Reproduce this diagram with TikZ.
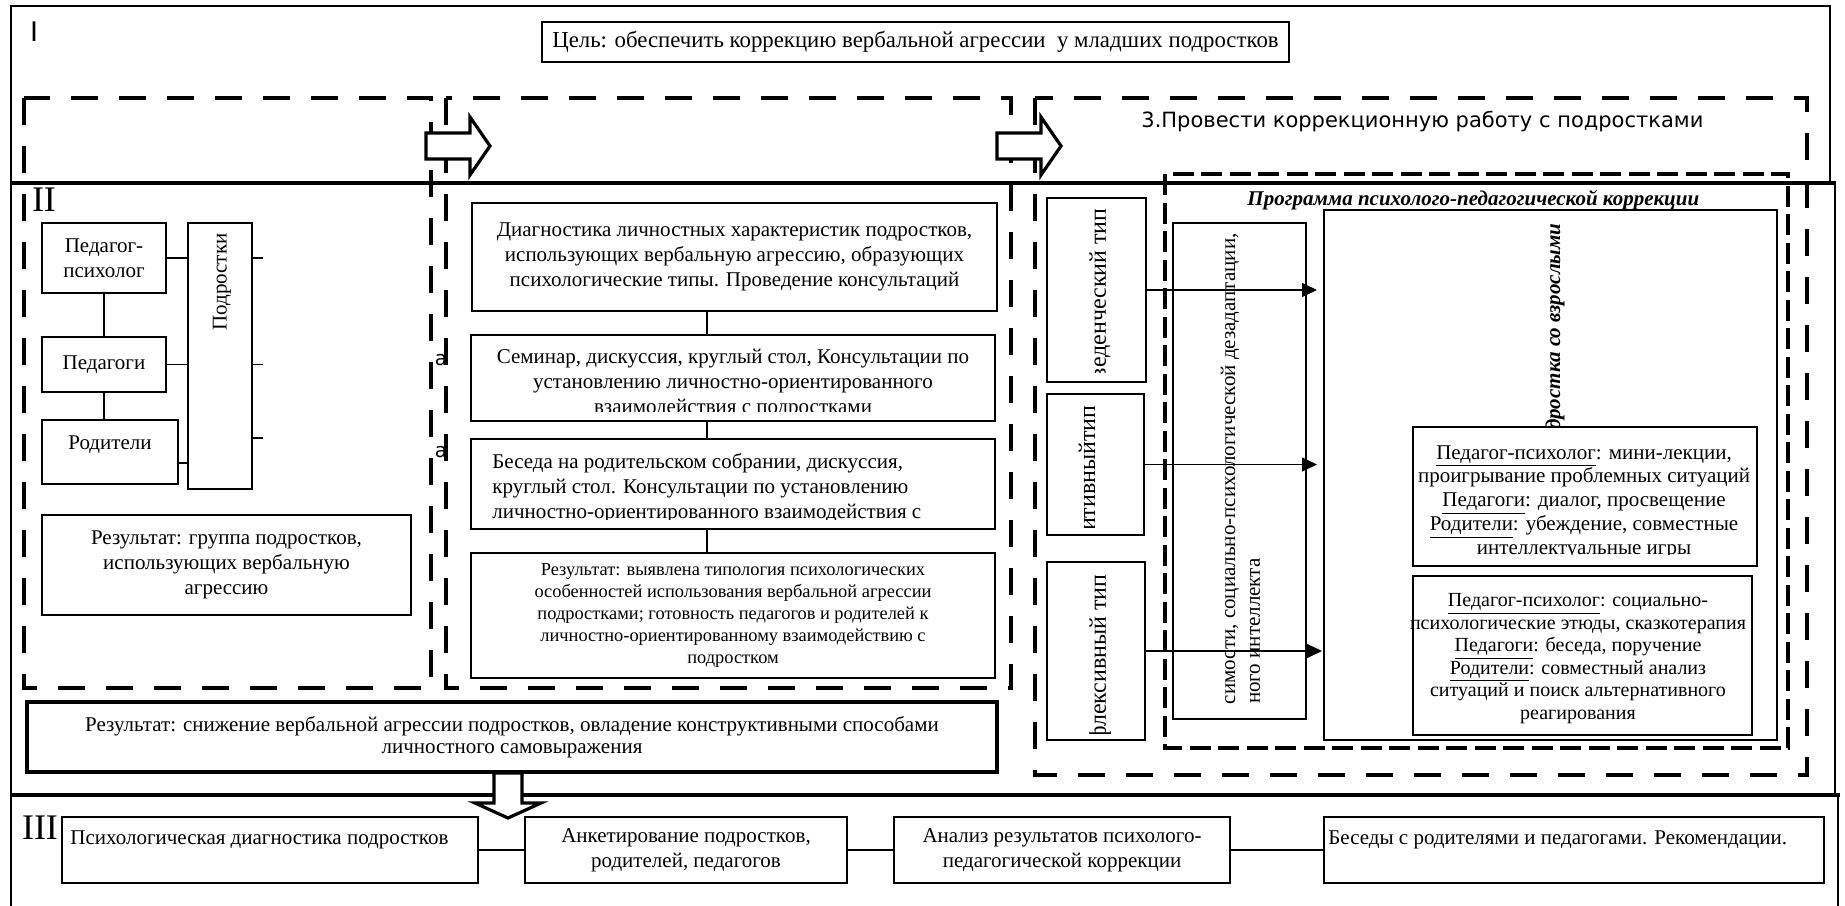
\documentclass[tikz,border=0pt]{standalone}
\usepackage{fontspec}
\setmainfont{Liberation Serif}
\newfontfamily\sansf{DejaVu Sans}
\usetikzlibrary{arrows.meta,calc}
\newcommand{\fz}[2]{\fontsize{#1}{#2}\selectfont}
\begin{document}
\begin{tikzpicture}[x=0.5pt,y=-0.5pt,
  bx/.style={draw, line width=0.8pt, inner sep=0pt, outer sep=0pt, align=center, font=\fz{10.5}{12.5}},
  lnk/.style={line width=0.7pt},
  bigdash/.style={line width=1.8pt, dash pattern=on 13.5pt off 10.5pt},
  progdash/.style={line width=2.2pt, dash pattern=on 10.5pt off 3.75pt},
  blockarrow/.style={draw, line width=1.6pt, fill=white, line join=miter},
  tiparrow/.style={-{Triangle[length=7.5pt,width=7pt]}, line width=0.6pt},
  frameline/.style={line width=0.8pt},
  sepline/.style={line width=1.6pt},
  txt/.style={inner sep=0pt, align=center, font=\fz{10.5}{12.5}},
  rot/.style={rotate=90, anchor=east, inner sep=0pt, font=\fz{10.5}{12.5}},
  rottype/.style={rot, font=\fz{12}{14}},
]
\useasboundingbox (0,0) rectangle (1845,905);
\fill[white] (0,0) rectangle (1845,905);

% section frames
\draw[frameline] (11,183) -- (11,6) -- (1830,6) -- (1830,183);
\draw[frameline] (11,183) -- (11,910);
\draw[frameline] (1835,183) -- (1835,795);
\draw[frameline] (1838,795) -- (1838,910);
\draw[sepline] (11,183) -- (1836,183);
\draw[sepline] (11,795) -- (1840,795);

% section labels
\node[font=\sansf\fz{13.5}{16}] (lI) at (34,32) {I};
\node[font=\fz{18}{20}] (lII) at (44,200) {II};
\node[font=\fz{18}{20}] (lIII) at (40,828) {III};

% goal
\node[bx, minimum width=373.5pt, minimum height=20pt, font=\fz{11.4}{13}] (goal) at (915.5,42) {Цель: обеспечить коррекцию вербальной агрессии~ у младших подростков};

% dashed stage panels
\draw[bigdash] (24,98) rectangle (431,688);
\draw[bigdash] (446,98) rectangle (1011,688);
\draw[bigdash] (1035,98) rectangle (1807,775);

% block arrows between stages
\draw[blockarrow] (426,133) -- (470,133) -- (470,117) -- (490,146) -- (470,175) -- (470,159) -- (426,159) -- cycle;
\draw[blockarrow] (997,133) -- (1041,133) -- (1041,117) -- (1061,146) -- (1041,175) -- (1041,159) -- (997,159) -- cycle;

\node[anchor=west, inner sep=0pt, font=\sansf\fz{10.5}{12}] (t3) at (1141,122) {3.Провести коррекционную работу с подростками};

% ---- stage 1 (left panel)
\node[bx, minimum width=62pt, minimum height=35pt] (pp) at (104,258) {Педагог-\\психолог};
\node[bx, minimum width=62pt, minimum height=27.5pt] (ped) at (104,364.5) {Педагоги};
\node[bx, minimum width=68pt, minimum height=32pt] (rod) at (110,452) {};
\node[txt] (rodt) at (110,445) {Родители};
\node[bx, minimum width=32pt, minimum height=133pt] (podr) at (220,356) {};
\node[txt, rotate=90] (podrt) at (222,282) {Подростки};
\node[bx, minimum width=184.5pt, minimum height=50pt] (res1) at (226.5,565) {Результат: группа подростков,\\использующих вербальную\\агрессию};

\draw[lnk] (pp.east) -- (pp.east -| podr.west);
\draw[lnk] (ped.east) -- (ped.east -| podr.west);
\coordinate (rodc) at ([yshift=-5.5pt]rod.east);
\draw[lnk] (rodc) -- (rodc -| podr.west);
\draw[lnk] (pp.south) -- (ped.north);
\draw[lnk] (ped.south) -- (ped.south |- rod.north);
\draw[lnk] (podr.east |- pp.east) -- ++(11,0);
\draw[lnk] (podr.east |- ped.east) -- ++(11,0);
\coordinate (podc) at ([yshift=-41pt]podr.east);
\draw[lnk] (podc) -- ++(11,0);

\node[inner sep=0pt, font=\sansf\fz{10}{12}] (a1) at (441,360) {а};
\node[inner sep=0pt, font=\sansf\fz{10}{12}] (a2) at (441,452) {а};

% ---- stage 2 (middle panel)
\node[bx, minimum width=262.5pt, minimum height=54pt] (diag) at (734.5,257) {Диагностика личностных характеристик подростков,\\использующих вербальную агрессию, образующих\\психологические типы. Проведение консультаций};
\node[bx, minimum width=262pt, minimum height=43pt] (sem) at (733,378) {};
\begin{scope}
\clip (472,336) rectangle (994,411);
\node[txt] (semt) at (733,384) {Семинар, дискуссия, круглый стол, Консультации по\\установлению личностно-ориентированного\\взаимодействия с подростками};
\end{scope}
\node[bx, minimum width=262pt, minimum height=45pt] (bes) at (733,484) {};
\begin{scope}
\clip (472,440) rectangle (994,519);
\node[txt, anchor=west, align=left] (best) at (492,488) {Беседа на родительском собрании, дискуссия,\\круглый стол. Консультации по установлению\\личностно-ориентированного взаимодействия с};
\end{scope}
\node[bx, minimum width=262pt, minimum height=62.5pt, font=\fz{9.2}{10.9}] (res2) at (733,615.5) {Результат: выявлена типология психологических\\особенностей использования вербальной агрессии\\подростками; готовность педагогов и родителей к\\личностно-ориентированному взаимодействию с\\подростком};

\coordinate (mx) at ([xshift=-13.75pt]diag.south);
\draw[lnk] (mx) -- (mx |- sem.north);
\draw[lnk] (mx |- sem.south) -- (mx |- bes.north);
\draw[lnk] (mx |- bes.south) -- (mx |- res2.north);

% overall result
\node[bx, line width=2pt, minimum width=485pt, minimum height=35pt, font=\fz{10.5}{11.2}] (res3) at (512,737) {Результат: снижение вербальной агрессии подростков, овладение конструктивными способами\\личностного самовыражения};
\draw[blockarrow] (494,773) -- (522,773) -- (522,803) -- (541,803) -- (508,818) -- (475,803) -- (494,803) -- cycle;

% ---- stage 3 (right panel)
\draw[progdash] (1165,174) rectangle (1788,748);
\node[anchor=base west, inner sep=0pt, font=\bfseries\itshape\fz{10.5}{12.5}] (prog) at (1247,205) {Программа психолого-педагогической коррекции};
\node[bx, line width=1.4pt, minimum width=226.5pt, minimum height=265pt] (cont) at (1550.5,475) {};

\node[bx, minimum width=49.5pt, minimum height=92pt] (tA) at (1096.5,290) {};
\node[bx, minimum width=48.5pt, minimum height=70.5pt] (tB) at (1095.5,464.5) {};
\node[bx, minimum width=49pt, minimum height=89pt] (tC) at (1096,651) {};
\begin{scope}
\clip (1048,199) rectangle (1145,372);
\node[rottype] (tAt) at (1100,208) {веденческий тип};
\end{scope}
\begin{scope}
\clip (1048,395) rectangle (1143,527);
\node[rottype] (tBt) at (1087,405) {итивныйтип};
\end{scope}
\begin{scope}
\clip (1048,563) rectangle (1144,733);
\node[rottype] (tCt) at (1100,574) {флексивный тип};
\end{scope}

\node[bx, minimum width=66.5pt, minimum height=248pt] (soc) at (1239.5,471) {};
\begin{scope}
\clip (1174,224) rectangle (1305,711);
\node[rot] (soct1) at (1230,233) {симости, социально-психологической дезадаптации,};
\node[rot] (soct2) at (1255,558) {ного интеллекта};
\end{scope}

\draw[tiparrow, shorten >=3.5pt] (tA.east) -- (tA.east -| cont.west);
\draw[tiparrow, shorten >=3.5pt] (tB.east) -- (tB.east -| cont.west);
\draw[tiparrow, shorten >=1pt] (tC.east) -- (tC.east -| cont.west);

\node[rot, font=\bfseries\itshape\fz{10.5}{12.5}] (vzr) at (1555,223) {дростка со взрослыми};

\node[bx, fill=white, minimum width=172pt, minimum height=69.5pt] (sub1) at (1585,496.5) {};
\begin{scope}
\clip (1414,428) rectangle (1756,554);
\node[txt, font=\fz{10.5}{11.9}] (sub1t) at (1584,502) {\underline{Педагог-психолог}: мини-лекции,\\проигрывание проблемных ситуаций\\\underline{Педагоги}: диалог, просвещение\\\underline{Родители}: убеждение, совместные\\интеллектуальные игры};
\end{scope}
\node[bx, fill=white, minimum width=169.5pt, minimum height=79.5pt] (sub2) at (1582.5,655.5) {};
\node[txt, font=\fz{10}{11.3}] (sub2t) at (1578,658.5) {\underline{Педагог-психолог}: социально-\\психологические этюды, сказкотерапия\\\underline{Педагоги}: беседа, поручение\\\underline{Родители}: совместный анализ\\ситуаций и поиск альтернативного\\реагирования};

% ---- section III
\node[bx, minimum width=208pt, minimum height=33pt] (s1) at (270,850) {};
\node[txt, anchor=west] (s1t) at (70,840) {Психологическая диагностика подростков};
\node[bx, minimum width=161pt, minimum height=33pt] (s2) at (686,850) {Анкетирование подростков,\\родителей, педагогов};
\node[bx, minimum width=168pt, minimum height=33pt] (s3) at (1062,850) {Анализ результатов психолого-\\педагогической коррекции};
\node[bx, minimum width=250pt, minimum height=33pt] (s4) at (1574,850) {};
\node[txt, anchor=west] (s4t) at (1328,840) {Беседы с родителями и педагогами. Рекомендации.};
\draw[lnk] (s1.east) -- (s2.west);
\draw[lnk] (s2.east) -- (s3.west);
\draw[lnk] (s3.east) -- (s4.west);
\end{tikzpicture}
\end{document}
